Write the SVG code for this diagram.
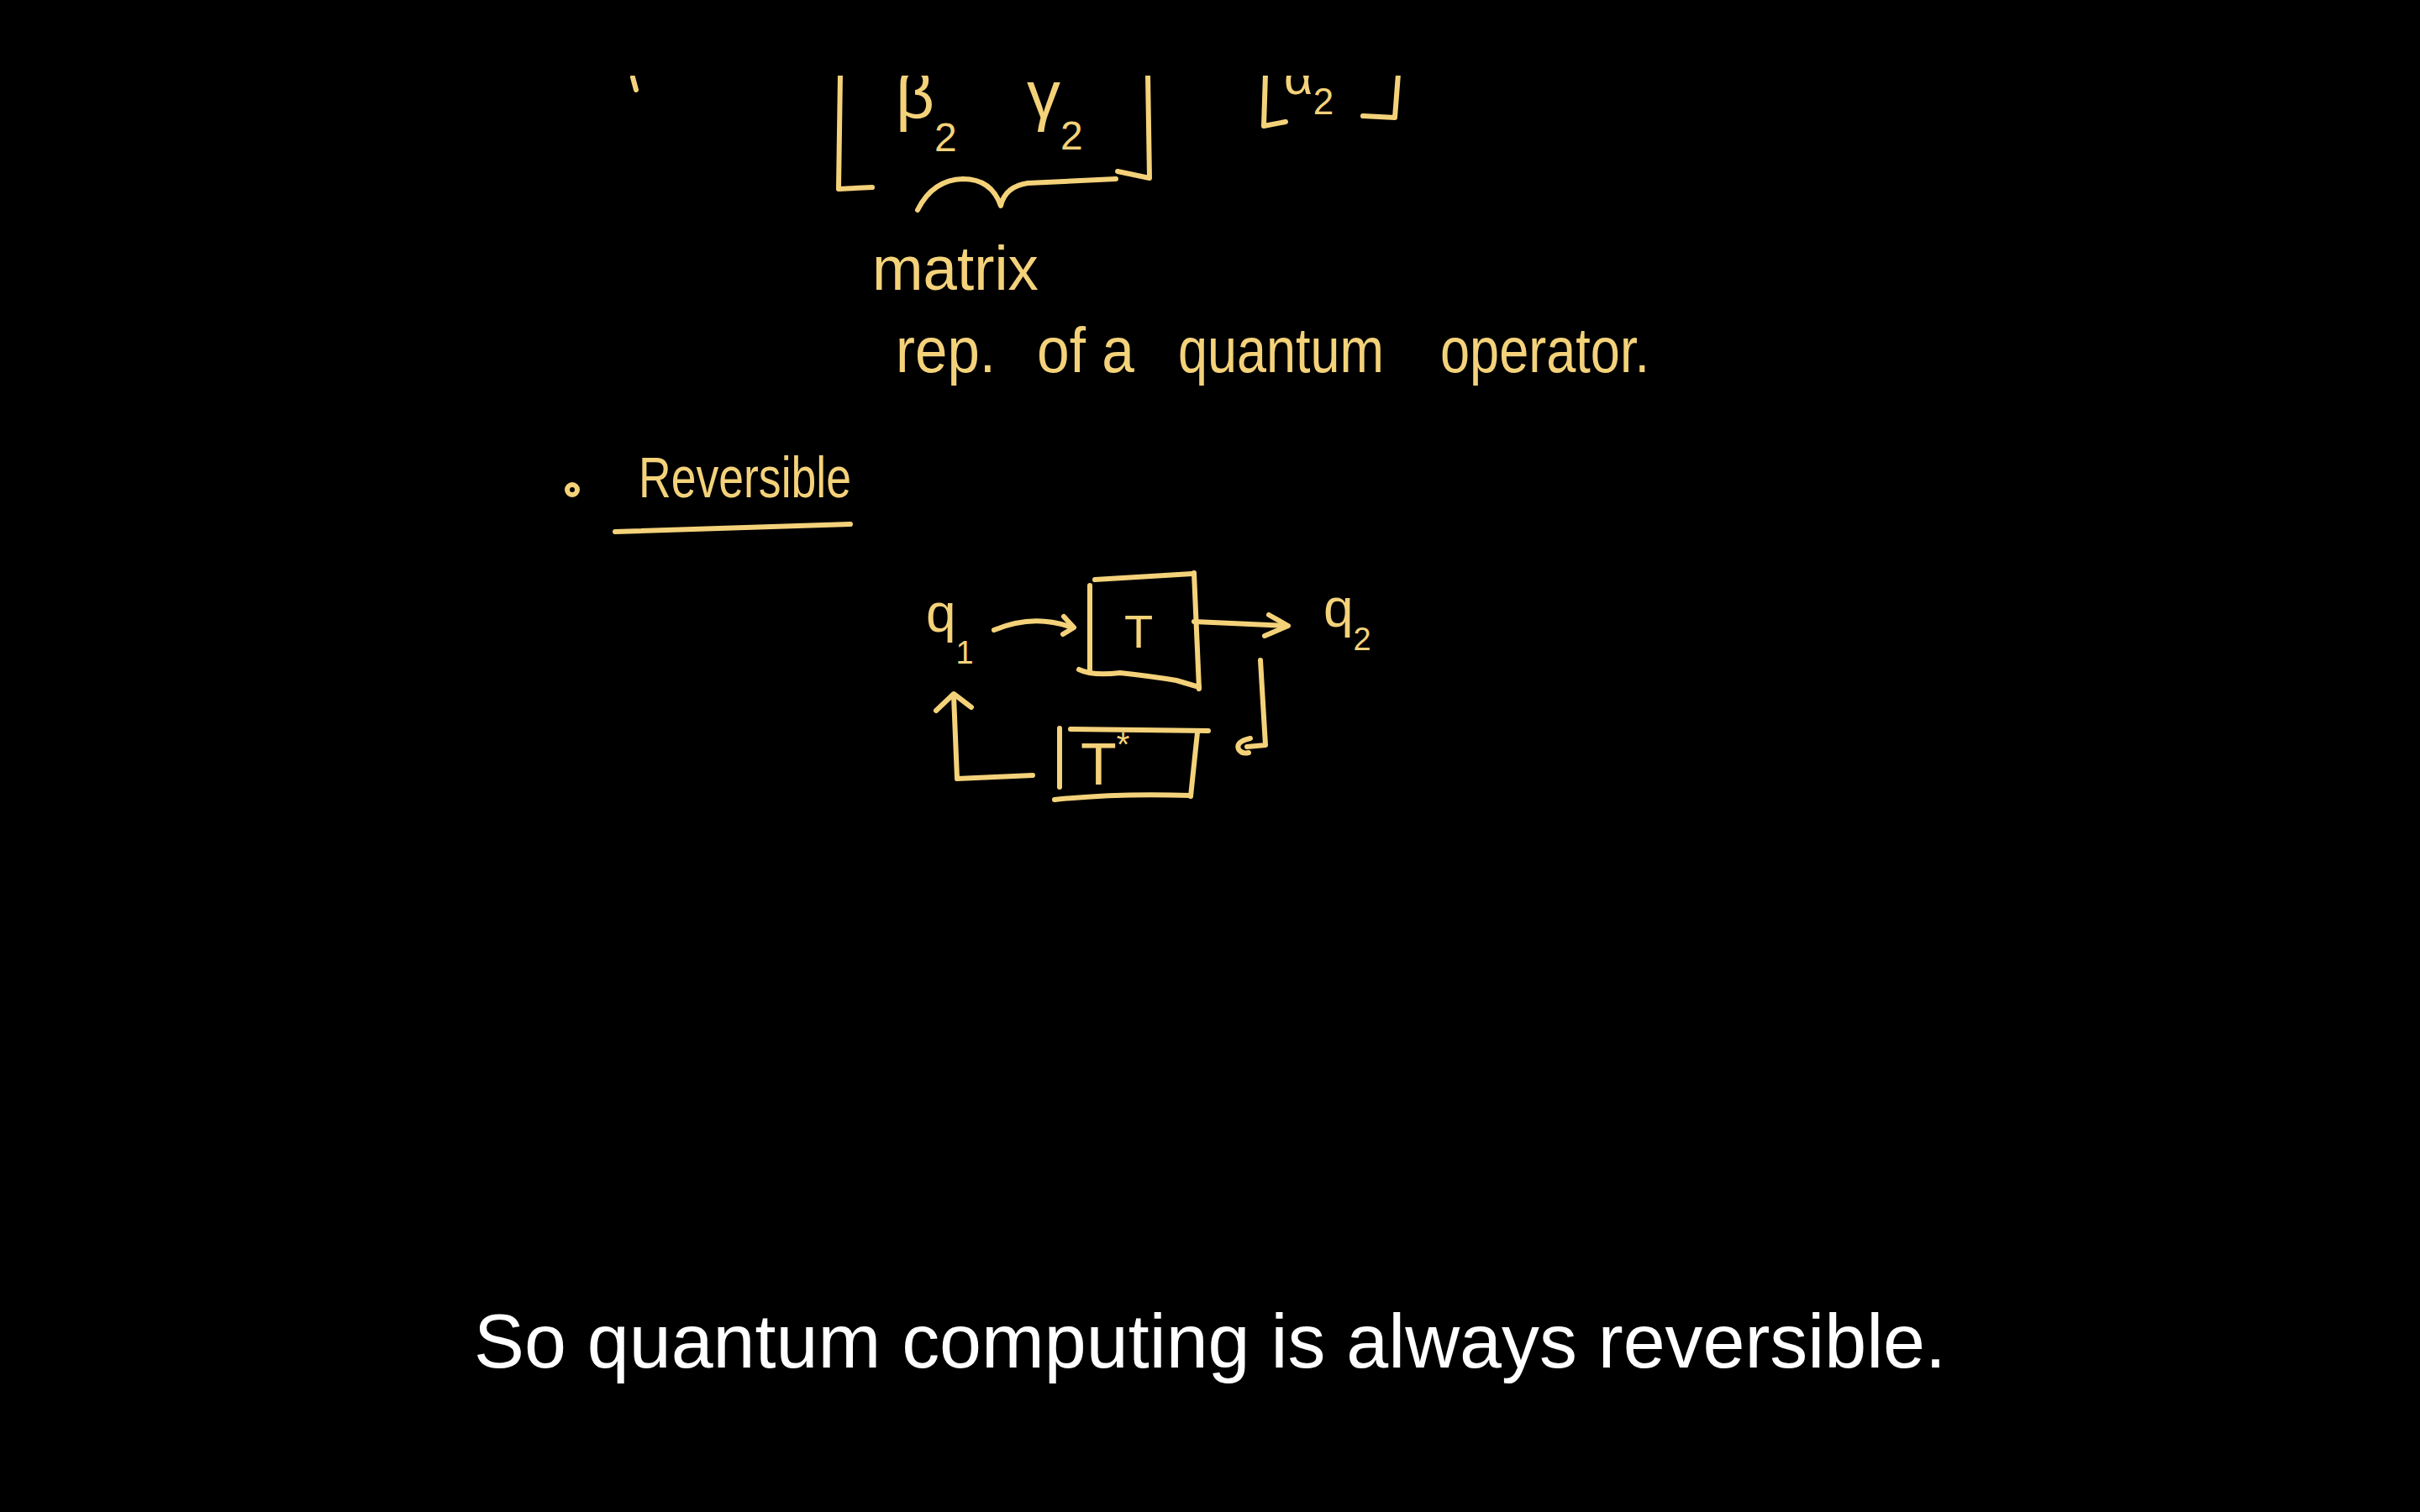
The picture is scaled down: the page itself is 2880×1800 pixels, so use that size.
<svg xmlns="http://www.w3.org/2000/svg" width="2880" height="1800" viewBox="0 0 2880 1800">
<style>
.ink{fill:none;stroke:#F4D27A;stroke-width:6;stroke-linecap:round;stroke-linejoin:round}
.hw{fill:#F4D27A;font-family:"Liberation Sans",Arial,sans-serif}
.cap{fill:#FFFFFF;font-family:"Liberation Sans",Arial,sans-serif;font-size:90px}
</style>
<defs>
<clipPath id="topclip"><rect x="0" y="90" width="2880" height="1710"/></clipPath>
</defs>
<rect width="2880" height="1800" fill="#000000"/>
<g id="matrix-fragment" clip-path="url(#topclip)">
<path class="ink" d="M753,92 L757,107"/>
<path class="ink" d="M1000,88 L998,225 L1038,223"/>
<path class="ink" d="M1366,88 L1368,212 L1330,204"/>
<text class="hw" x="1066" y="140" font-size="80">β<tspan font-size="48" dy="40">2</tspan></text>
<text class="hw" x="1222" y="140" font-size="80">γ<tspan font-size="48" dy="38">2</tspan></text>
<path class="ink" d="M1506,88 L1504,150 L1530,145"/>
<text class="hw" x="1528" y="112" font-size="60">α<tspan font-size="44" dy="24">2</tspan></text>
<path class="ink" d="M1664,88 L1660,140 L1622,138"/>
<path class="ink" d="M1092,250 Q1110,214 1146,213 Q1180,213 1191,245 Q1196,222 1223,218 L1328,213"/>
</g>
<g id="label-matrix">
<text class="hw" x="1038" y="345" font-size="74" textLength="198" lengthAdjust="spacingAndGlyphs">matrix</text>
</g>
<g id="label-rep">
<text class="hw" x="1066" y="443" font-size="76" textLength="119" lengthAdjust="spacingAndGlyphs">rep.</text>
<text class="hw" x="1234" y="443" font-size="76" textLength="116" lengthAdjust="spacingAndGlyphs">of a</text>
<text class="hw" x="1402" y="443" font-size="76" textLength="245" lengthAdjust="spacingAndGlyphs">quantum</text>
<text class="hw" x="1714" y="443" font-size="76" textLength="249" lengthAdjust="spacingAndGlyphs">operator.</text>
</g>
<g id="heading-reversible">
<circle cx="681" cy="583" r="6" class="ink" stroke-width="5"/>
<text class="hw" x="760" y="592" font-size="68" textLength="253" lengthAdjust="spacingAndGlyphs">Reversible</text>
<path class="ink" d="M732,633 L1012,624"/>
</g>
<g id="node-q1">
<text class="hw" x="1102" y="752" font-size="64">q<tspan font-size="38" dy="38">1</tspan></text>
</g>
<g id="node-T">
<path class="ink" d="M1297,697 L1297,797"/>
<path class="ink" d="M1303,690 L1419,683"/>
<path class="ink" d="M1421,682 L1427,820"/>
<path class="ink" d="M1284,797 Q1300,805 1333,801 Q1370,805 1400,810 L1427,818"/>
<text class="hw" x="1355" y="771" font-size="56" text-anchor="middle">T</text>
</g>
<g id="node-q2">
<text class="hw" x="1575" y="746" font-size="64">q<tspan font-size="38" dy="28">2</tspan></text>
</g>
<g id="node-Tstar">
<path class="ink" d="M1261,867 L1261,937"/>
<path class="ink" d="M1274,868 L1438,870"/>
<path class="ink" d="M1425,872 L1417,948"/>
<path class="ink" d="M1255,952 Q1330,944 1417,947"/>
<text class="hw" x="1286" y="934" font-size="70">T<tspan font-size="40" dy="-34">*</tspan></text>
</g>
<g id="connectors">
<path class="ink" d="M1183,750 Q1230,730 1276,747"/>
<path class="ink" d="M1266,734 L1278,747 L1265,755"/>
<path class="ink" d="M1421,740 L1531,745"/>
<path class="ink" d="M1510,732 L1533,745 L1505,757"/>
<path class="ink" d="M1500,786 L1506,887 L1484,889"/>
<path class="ink" d="M1488,879 Q1470,883 1474,892 Q1478,898 1486,896"/>
<path class="ink" d="M1229,923 L1139,927 L1135,828"/>
<path class="ink" d="M1114,846 L1135,826 L1156,842"/>
</g>
<g id="caption">
<text class="cap" x="1440" y="1628" text-anchor="middle" textLength="1752" lengthAdjust="spacingAndGlyphs">So quantum computing is always reversible.</text>
</g>
</svg>
